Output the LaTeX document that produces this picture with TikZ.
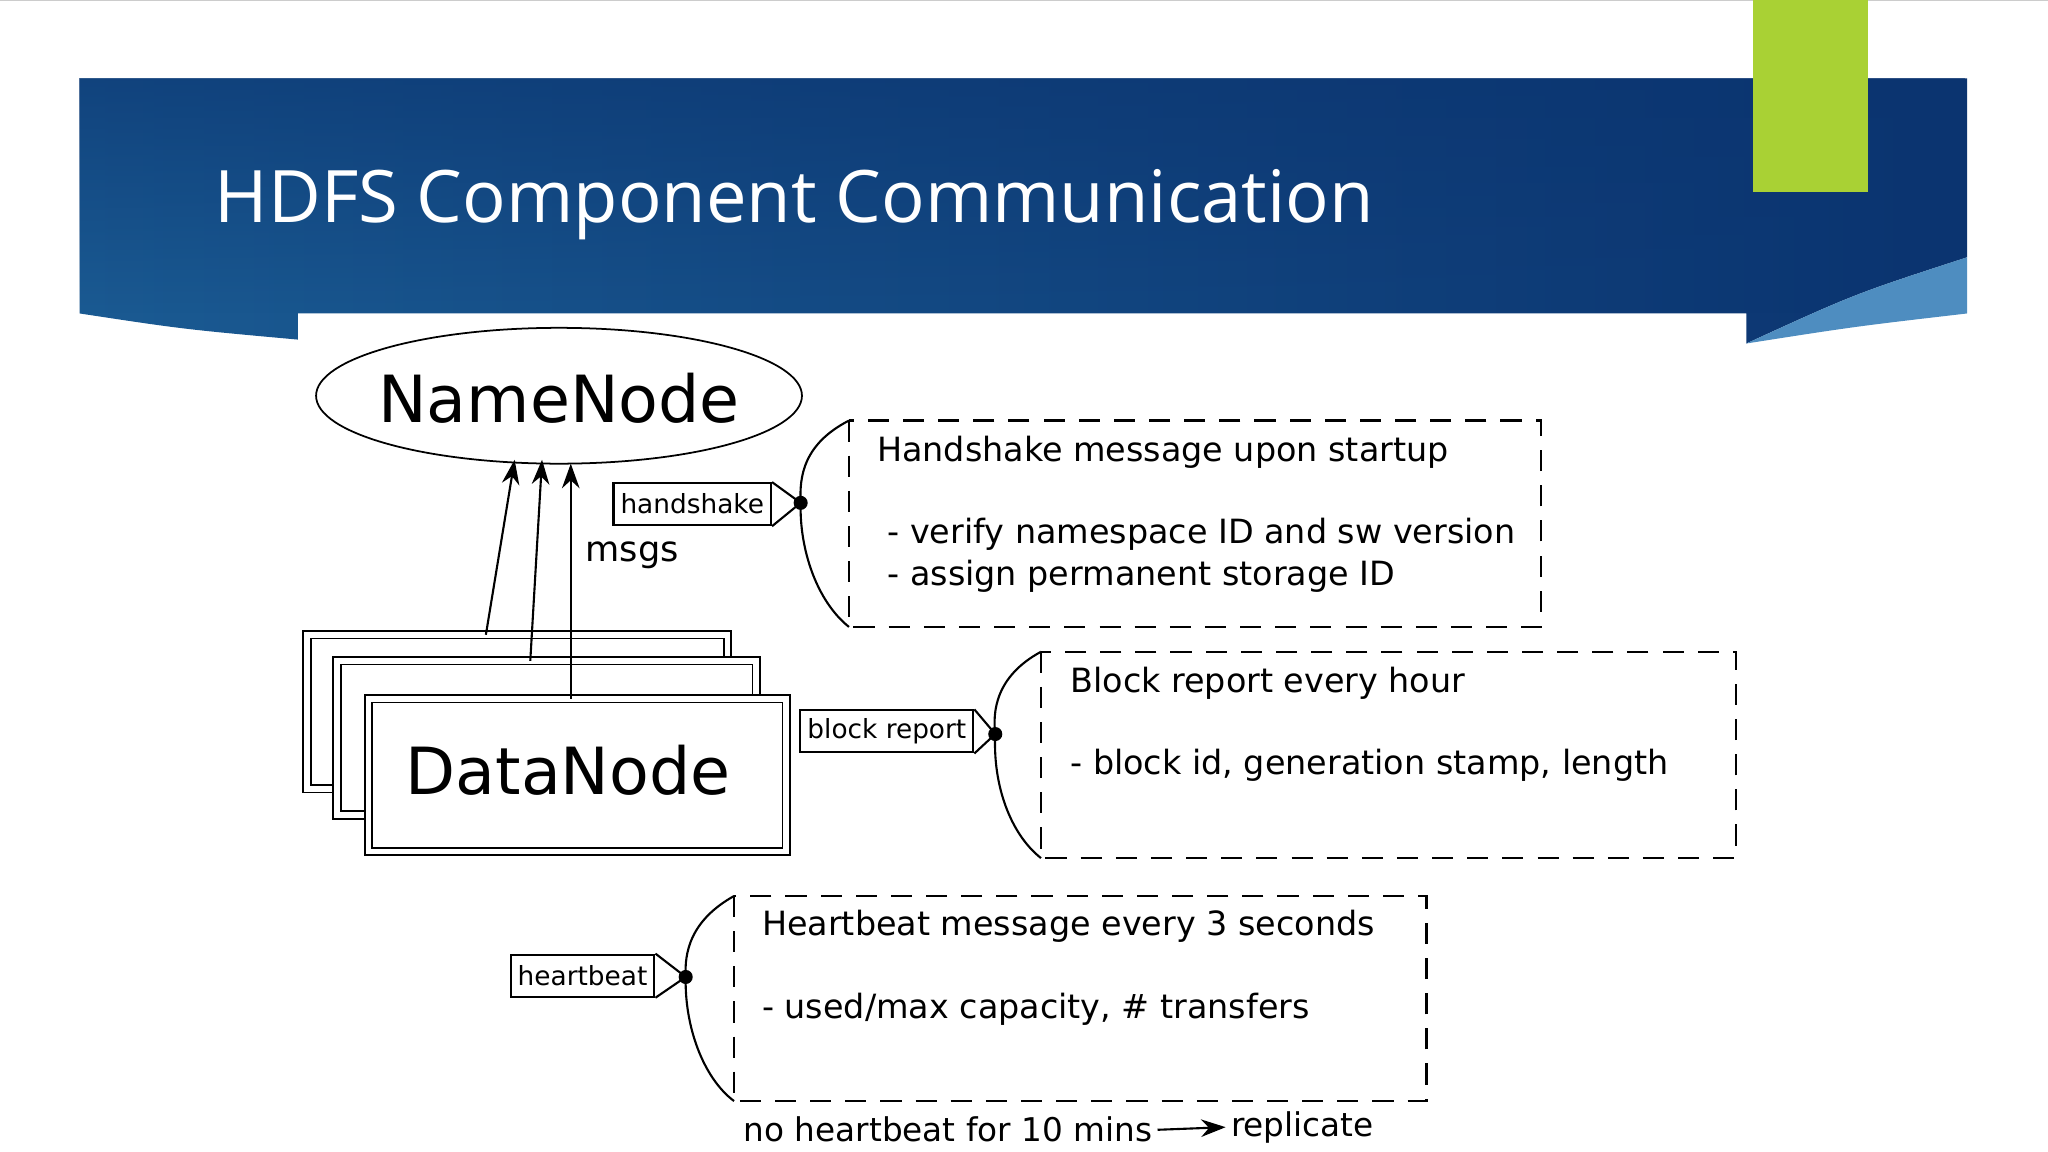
\documentclass[tikz,border=0pt]{standalone}
\usepackage{fontspec}
\setmainfont{DejaVu Sans}
\newfontfamily\titlefont{Open Sans}
\usetikzlibrary{shapes.geometric,arrows.meta,fadings}
\definecolor{bannerA}{HTML}{1A5A92}
\definecolor{bannerB}{HTML}{2C88B0}
\definecolor{bannerC}{HTML}{0B3470}
\definecolor{flap}{HTML}{4E8DC0}
\definecolor{accent}{HTML}{A9D134}
\begin{document}
\begin{tikzpicture}[x=0.01306cm,y=-0.01306cm,
  tag/.style={draw,line width=0.6pt,inner sep=2pt,font=\fontsize{7.5}{9}\selectfont,minimum height=0.42cm},
  note/.style={draw,dashed,dash pattern=on 6pt off 4pt,line width=0.7pt},
  ntext/.style={anchor=west,font=\fontsize{9.5}{11}\selectfont},
  dn/.style={draw,double,double distance=1.6pt,line width=0.5pt},
  brace/.style={line width=0.6pt},
  dot/.style={circle,fill,inner sep=0pt,minimum size=4pt}]
\useasboundingbox (0,0) rectangle (1568,882);
\fill[white] (0,0) rectangle (1568,882);
\draw[gray!40] (0,0.5) -- (1568,0.5);
% banner
\path[left color=bannerA,middle color=bannerB,right color=bannerC]
  (61,60) -- (1506,60) -- (1506,197) .. controls (1420,225) .. (1337,263) -- (1337,240) -- (228,240) -- (228,260) .. controls (140,252) .. (61,240) -- cycle;
\fill[bannerC,path fading=south,fill opacity=0.6] (61,60) rectangle (1506,240);
\fill[flap] (1337,263) .. controls (1420,225) .. (1506,197) -- (1506,240) .. controls (1420,250) .. (1337,263) -- cycle;
\fill[accent] (1342,0) rectangle (1430,147);
\node[anchor=west,text=white,font=\titlefont\fontsize{20.6}{24}\selectfont] (title) at (155,157) {HDFS Component Communication};
% NameNode
\draw[line width=0.5pt] (428,303) ellipse [x radius=186, y radius=52];
\node[font=\fontsize{18.5}{22}\selectfont] (nn) at (428,305) {NameNode};
% DataNodes
\draw[dn,fill=white] (235,486) rectangle (557,604);
\draw[dn,fill=white] (258,506) rectangle (579,624);
\draw[dn,fill=white] (282,535) rectangle (602,652);
\node[font=\fontsize{18.5}{22}\selectfont] (dn) at (435,590) {DataNode};
\coordinate (d1) at (372,486); \coordinate (n1) at (394,352);
\coordinate (d2) at (406,506); \coordinate (n2) at (415,352);
\coordinate (d3) at (437,535); \coordinate (n3) at (437,355);
\foreach \i in {1,2,3} \draw[-{Stealth[length=7pt,width=5pt]},line width=0.6pt] (d\i) -- (n\i);
\node[font=\fontsize{10}{12}\selectfont] (msgs) at (484,425) {msgs};
% handshake
\node[tag] (th) at (530,386) {handshake};
\node[dot] (ph) at (613,385) {};
\draw[line width=0.6pt] (th.north east) -- (ph.center) -- (th.south east);
\draw[note] (650,322) rectangle (1180,480);
\draw[brace] (650,322) .. controls (615,340) and (612,365) .. (ph.center) .. controls (612,420) and (625,460) .. (650,480);
\node[ntext] (h1) at (662,346) {Handshake message upon startup};
\node[ntext] (h2) at (670,409) {- verify namespace ID and sw version};
\node[ntext] (h3) at (670,441) {- assign permanent storage ID};
% block report
\node[tag] (tb) at (679,560) {block report};
\node[dot] (pb) at (762,562) {};
\draw[line width=0.6pt] (tb.north east) -- (pb.center) -- (tb.south east);
\draw[note] (797,499) rectangle (1329,657);
\draw[brace] (797,499) .. controls (762,518) and (760,545) .. (pb.center) .. controls (760,600) and (773,638) .. (797,657);
\node[ntext] (b1) at (810,523) {Block report every hour};
\node[ntext] (b2) at (810,586) {- block id, generation stamp, length};
% heartbeat
\node[tag] (tt) at (446,747) {heartbeat};
\node[dot] (pt) at (525,748) {};
\draw[line width=0.6pt] (tt.north east) -- (pt.center) -- (tt.south east);
\draw[note] (562,686) rectangle (1092,843);
\draw[brace] (562,686) .. controls (528,705) and (524,730) .. (pt.center) .. controls (524,785) and (538,825) .. (562,843);
\node[ntext] (t1) at (574,709) {Heartbeat message every 3 seconds};
\node[ntext] (t2) at (574,773) {- used/max capacity, \# transfers};
\node[anchor=west,font=\fontsize{9.3}{11}\selectfont] (nh) at (560,865) {no heartbeat for 10 mins};
\node[anchor=west,font=\fontsize{9.3}{11}\selectfont] (rep) at (933,863) {replicate};
\draw[-{Stealth[length=7pt,width=5pt]},line width=0.6pt] ([xshift=-2pt]nh.east) -- ([xshift=2pt]rep.west);
\end{tikzpicture}
\end{document}
